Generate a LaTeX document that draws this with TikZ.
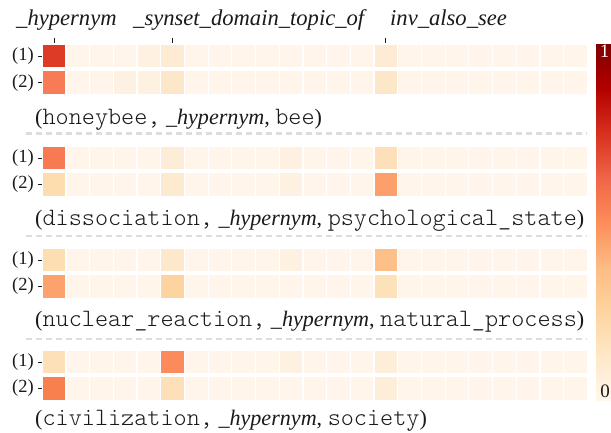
\documentclass[tikz,border=0pt]{standalone}
\usepackage{fontspec}
\setmainfont{Liberation Serif}
\setmonofont{Latin Modern Mono Light}[Scale=1.13]
\definecolor{o0}{HTML}{FFF7EC}
\definecolor{o1}{HTML}{FEE8C8}
\definecolor{o2}{HTML}{FDD49E}
\definecolor{o3}{HTML}{FDBB84}
\definecolor{o4}{HTML}{FC8D59}
\definecolor{o5}{HTML}{EF6548}
\definecolor{o6}{HTML}{D7301F}
\definecolor{o7}{HTML}{B30000}
\definecolor{o8}{HTML}{7F0000}
\definecolor{txt}{HTML}{1A1A1A}
\definecolor{dashc}{HTML}{DDDDDD}
\pgfdeclareverticalshading{orrd}{100bp}{color(0bp)=(o0); color(25bp)=(o0); color(31.25bp)=(o1); color(37.5bp)=(o2); color(43.75bp)=(o3); color(50bp)=(o4); color(56.25bp)=(o5); color(62.5bp)=(o6); color(68.75bp)=(o7); color(75bp)=(o8); color(100bp)=(o8)}
\tikzset{
  toplab/.style={anchor=base west, inner sep=0pt, text=txt, font=\fontsize{22.6}{26}\selectfont\itshape},
  rowlab/.style={anchor=east, inner sep=0pt, text=txt, font=\fontsize{18.5}{22}\selectfont},
  triple/.style={anchor=base west, inner sep=0pt, text=txt, font=\fontsize{22.1}{26}\selectfont},
  sepline/.style={draw=dashc, line width=2.5pt, dash pattern=on 6pt off 4pt},
  tickmark/.style={draw=txt, line width=0.8pt},
  cbl/.style={inner sep=0pt, font=\fontsize{19}{22}\selectfont}
}
% cell: block, row, col, hex colour
\newcommand{\hmcell}[4]{%
  \pgfmathsetmacro{\cx}{42.8+23.7*#3}%
  \pgfmathsetmacro{\cy}{45+101.9*#1+26.4*#2}%
  \definecolor{tmpc}{HTML}{#4}%
  \fill[tmpc] (\cx,\cy) rectangle ++(22.5,22.4);}
\begin{document}
\begin{tikzpicture}[x=1pt,y=-1pt]
\useasboundingbox (0,0) rectangle (611,432);
\fill[white] (0,0) rectangle (611,432);
% top labels
\node[toplab] (h1) at (16,25) {\_hypernym};
\node[toplab] (h2) at (133,25) {\_synset\_domain\_topic\_of};
\node[toplab] (h3) at (390,25) {inv\_also\_see};
\draw[tickmark] (54.05,38) -- (54.05,43.3);
\draw[tickmark] (172.55,38) -- (172.55,43.3);
\draw[tickmark] (385.85,38) -- (385.85,43.3);
% background cells
\foreach \b in {0,1,2,3}{
  \foreach \r in {0,1}{
    \foreach \c in {0,...,22}{
      \hmcell{\b}{\r}{\c}{FFF5EA}
    }
  }
}
% subtle variations
\hmcell{0}{1}{4}{FEF1E2}
\hmcell{0}{1}{3}{FEF1E2}
\hmcell{1}{0}{10}{FEF1E2}
\hmcell{1}{1}{10}{FEF1E2}
\hmcell{2}{0}{10}{FEF1E2}
\hmcell{3}{0}{10}{FEF1E2}
\hmcell{0}{0}{4}{FEF1E2}
% block 1
\hmcell{0}{0}{0}{DD3B26}
\hmcell{0}{0}{5}{FEEBD3}
\hmcell{0}{0}{14}{FEEBD3}
\hmcell{0}{1}{0}{F77B54}
\hmcell{0}{1}{5}{FDE7C9}
\hmcell{0}{1}{14}{FDE7C9}
% block 2
\hmcell{1}{0}{0}{F87A52}
\hmcell{1}{0}{5}{FEEDD6}
\hmcell{1}{0}{14}{FDE0BA}
\hmcell{1}{1}{0}{FDDCAE}
\hmcell{1}{1}{5}{FDEBD0}
\hmcell{1}{1}{14}{FC9F6B}
% block 3
\hmcell{2}{0}{0}{FDDDB2}
\hmcell{2}{0}{5}{FDE8CB}
\hmcell{2}{0}{14}{FDC088}
\hmcell{2}{1}{0}{FCA26C}
\hmcell{2}{1}{5}{FDD39F}
\hmcell{2}{1}{14}{FDE1B9}
% block 4
\hmcell{3}{0}{0}{FDE0B8}
\hmcell{3}{0}{5}{FC8B5B}
\hmcell{3}{0}{14}{FEEDD8}
\hmcell{3}{1}{0}{F8804F}
\hmcell{3}{1}{5}{FDE0B7}
\hmcell{3}{1}{14}{FEEDD8}
% row labels and ticks
\foreach \b in {0,1,2,3}{
  \pgfmathsetmacro{\ya}{45+101.9*\b+11.2}
  \pgfmathsetmacro{\yb}{45+101.9*\b+26.4+11.2}
  \node[rowlab] (ra\b) at (34,\ya) {(1)};
  \node[rowlab] (rb\b) at (34,\yb) {(2)};
  \draw[tickmark] (38,\ya) -- (41.7,\ya);
  \draw[tickmark] (38,\yb) -- (41.7,\yb);
}
% triples
\node[triple] (t1) at (35,124) {(\texttt{honeybee,} \textit{\_hypernym}, \texttt{bee})};
\node[triple] (t2) at (35,225) {(\texttt{dissociation,} \textit{\_hypernym}, \texttt{psychological\_state})};
\node[triple] (t3) at (35,326) {(\texttt{nuclear\_reaction,} \textit{\_hypernym}, \texttt{natural\_process})};
\node[triple] (t4) at (35,425) {(\texttt{civilization,} \textit{\_hypernym}, \texttt{society})};
% separators
\draw[sepline] (26,133.5) -- (587,133.5);
\draw[sepline] (26,236.2) -- (587,236.2);
\draw[sepline] (26,339) -- (587,339);
% colorbar
\shade[shading=orrd] (596,44) rectangle (611,400);
\node[cbl, text=white!92!o1] (cb1) at (604.5,51.5) {1};
\node[cbl, text=txt] (cb0) at (605,391.5) {0};
\end{tikzpicture}
\end{document}
